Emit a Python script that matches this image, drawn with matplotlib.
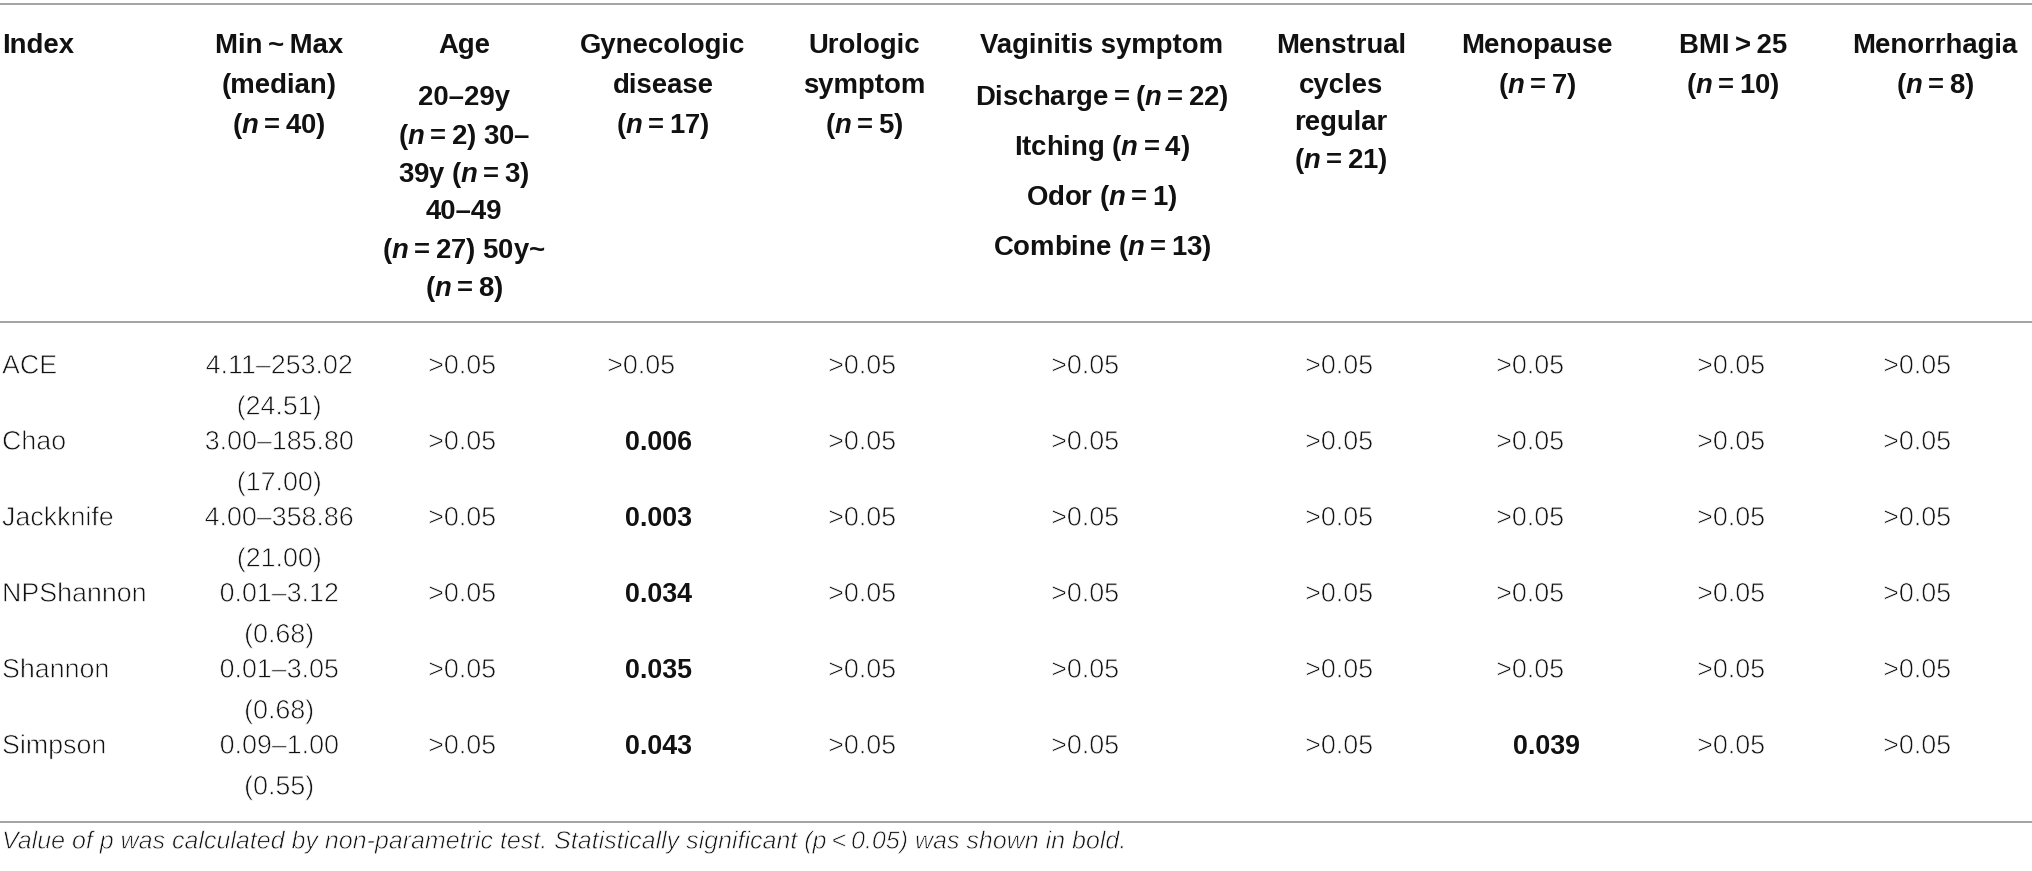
import matplotlib
matplotlib.use("Agg")
import matplotlib.pyplot as plt
import matplotlib.patheffects as pe

# ---------------- data ----------------
index_names = ["ACE", "Chao", "Jackknife", "NPShannon", "Shannon", "Simpson"]
range_vals = ["4.11–253.02", "3.00–185.80", "4.00–358.86", "0.01–3.12", "0.01–3.05", "0.09–1.00"]
median_vals = ["(24.51)", "(17.00)", "(21.00)", "(0.68)", "(0.68)", "(0.55)"]

p_age = [">0.05", ">0.05", ">0.05", ">0.05", ">0.05", ">0.05"]
p_gyn = [">0.05", "0.006", "0.003", "0.034", "0.035", "0.043"]
p_uro = [">0.05", ">0.05", ">0.05", ">0.05", ">0.05", ">0.05"]
p_vag = [">0.05", ">0.05", ">0.05", ">0.05", ">0.05", ">0.05"]
p_men = [">0.05", ">0.05", ">0.05", ">0.05", ">0.05", ">0.05"]
p_meno = [">0.05", ">0.05", ">0.05", ">0.05", ">0.05", "0.039"]
p_bmi = [">0.05", ">0.05", ">0.05", ">0.05", ">0.05", ">0.05"]
p_mrh = [">0.05", ">0.05", ">0.05", ">0.05", ">0.05", ">0.05"]

T = "\u2009"
hdr_index = ["Index"]
hdr_minmax = [f"Min{T}~{T}Max", "(median)", f"(*n*{T}={T}40)"]
hdr_age = ["Age", "20–29y", f"(*n*{T}={T}2) 30–", f"39y (*n*{T}={T}3)", "40–49",
           f"(*n*{T}={T}27) 50y~", f"(*n*{T}={T}8)"]
hdr_gyn = ["Gynecologic", "disease", f"(*n*{T}={T}17)"]
hdr_uro = ["Urologic", "symptom", f"(*n*{T}={T}5)"]
hdr_vag = ["Vaginitis symptom", f"Discharge{T}={T}(*n*{T}={T}22)", f"Itching (*n*{T}={T}4)",
           f"Odor (*n*{T}={T}1)", f"Combine (*n*{T}={T}13)"]
hdr_men = ["Menstrual", "cycles", "regular", f"(*n*{T}={T}21)"]
hdr_meno = ["Menopause", f"(*n*{T}={T}7)"]
hdr_bmi = [f"BMI{T}>{T}25", f"(*n*{T}={T}10)"]
hdr_mrh = ["Menorrhagia", f"(*n*{T}={T}8)"]

caption = f"Value of p was calculated by non-parametric test. Statistically significant (p{T}<{T}0.05) was shown in bold."

# ---------------- layout ----------------
W, H = 2032, 871
plt.rcParams["mathtext.fontset"] = "custom"
plt.rcParams["mathtext.rm"] = "Liberation Sans"
plt.rcParams["mathtext.it"] = "Liberation Sans:italic"
plt.rcParams["mathtext.bf"] = "Liberation Sans:bold"
has_bfit = "mathtext.bfit" in plt.rcParams
if has_bfit:
    plt.rcParams["mathtext.bfit"] = "Liberation Sans:italic:bold"
NMATH = r"$\mathbfit{n}$" if has_bfit else r"$\mathit{n}$"

FAM = ["Liberation Sans", "DejaVu Sans"]
HDR_FS = 19.8
DAT_FS = 19.3
TXT = "#111111"
LINE = "#9b9b9b"
THIN = [pe.Stroke(linewidth=0.55, foreground="white")]

fig = plt.figure(figsize=(W / 100, H / 100), dpi=100)
ax = fig.add_axes([0, 0, 1, 1])
ax.set_xlim(0, W)
ax.set_ylim(H, 0)
ax.axis("off")

CAPH = 9.6  # half cap height in px -> baseline offset


def fmt(s):
    return s.replace("*n*", NMATH)


def put(x, yc, s, ha="center", weight="normal", fs=DAT_FS, style="normal"):
    t = ax.text(x, yc + CAPH, fmt(s), ha=ha, va="baseline", fontsize=fs,
                fontweight=weight, fontstyle=style, family=FAM, color=TXT)
    if weight == "normal":
        t.set_path_effects(THIN)


# rules
for y in (4.5, 322.5, 822):
    ax.plot([0, W], [y, y], color=LINE, lw=1.3, solid_capstyle="butt")

# header
headers = [
    (2, "left", hdr_index, [43]),
    (279, "center", hdr_minmax, [43, 83, 123]),
    (464, "center", hdr_age, [43, 95, 134, 172, 209, 248, 286]),
    (663, "center", hdr_gyn, [43, 83, 123]),
    (864, "center", hdr_uro, [43, 83, 123]),
    (1102, "center", hdr_vag, [43, 95, 145, 195, 245]),
    (1341, "center", hdr_men, [43, 83, 120, 158]),
    (1537, "center", hdr_meno, [43, 83]),
    (1733, "center", hdr_bmi, [43, 83]),
    (1935, "center", hdr_mrh, [43, 83]),
]
for x, ha, lines, ys in headers:
    for s, y in zip(lines, ys):
        put(x, y, s, ha=ha, weight="bold", fs=HDR_FS)

# body
row_y = [364, 440, 516, 592, 668, 744]
sub_dy = 41
# (x for plain values, x for bold values, values)
pcols = [(462, 462, p_age), (641, 658, p_gyn), (862, 862, p_uro), (1085, 1085, p_vag),
         (1339, 1339, p_men), (1530, 1546, p_meno), (1731, 1731, p_bmi), (1917, 1917, p_mrh)]

for i, y in enumerate(row_y):
    put(2, y, index_names[i], ha="left")
    put(279, y, range_vals[i])
    put(279, y + sub_dy, median_vals[i])
    for xp, xb, vals in pcols:
        v = vals[i]
        if v.startswith(">"):
            put(xp, y, v)
        else:
            put(xb, y, v, weight="bold")

# caption
put(2, 839, caption, ha="left", style="italic", fs=18.0)

fig.savefig("out.png", dpi=100)
